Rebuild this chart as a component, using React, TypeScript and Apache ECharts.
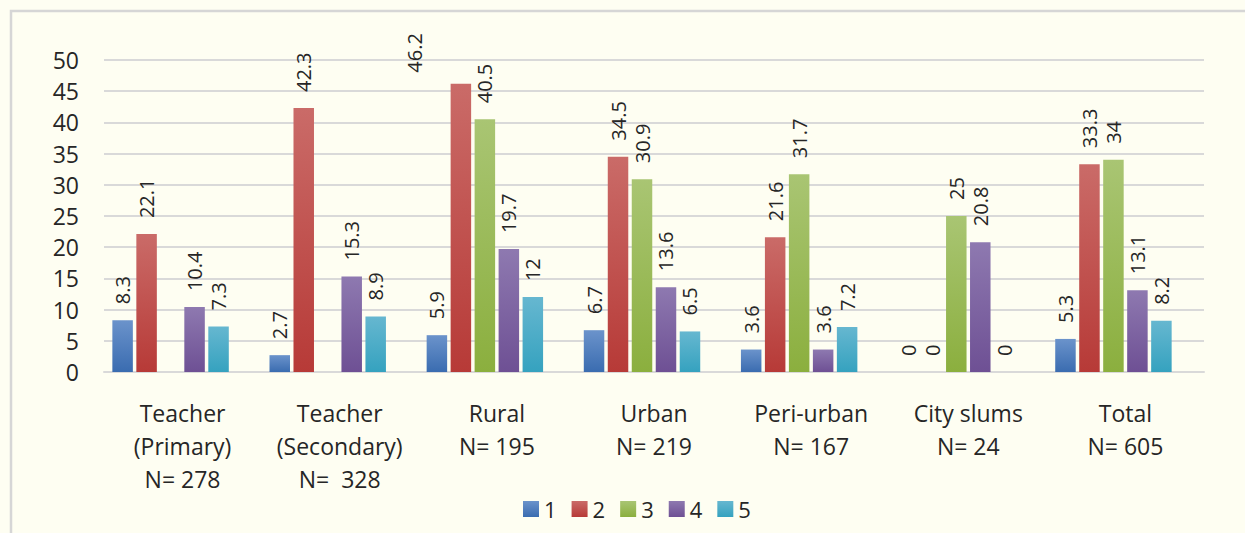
import React, { useEffect, useRef } from "react";
import * as echarts from "echarts";

const categories = [
  "Teacher\n(Primary)\nN= 278",
  "Teacher\n(Secondary)\nN=  328",
  "Rural\nN= 195",
  "Urban\nN= 219",
  "Peri-urban\nN= 167",
  "City slums\nN= 24",
  "Total\nN= 605",
];
const seriesNames = ["1", "2", "3", "4", "5"];
const values1 = [8.3, 2.7, 5.9, 6.7, 3.6, 0, 5.3];
const values2 = [22.1, 42.3, 46.2, 34.5, 21.6, 0, 33.3];
const values3 = [null, null, 40.5, 30.9, 31.7, 25, 34];
const values4 = [10.4, 15.3, 19.7, 13.6, 3.6, 20.8, 13.1];
const values5 = [7.3, 8.9, 12, 6.5, 7.2, 0, 8.2];
const spacerValues = [null, null, null, null, null, null, null];
const yTicks = { min: 0, max: 50, interval: 5 };

const FONT = '"Open Sans", "Noto Sans", sans-serif';
const TEXT = "#262626";
const gradients: [string, string][] = [
  ["#6B93CB", "#3A6CB0"],
  ["#CA6B68", "#B73A37"],
  ["#A9C573", "#8BAF3E"],
  ["#8E79B0", "#6E5094"],
  ["#66B7D0", "#35A2BF"],
];

export default function App() {
  const ref = useRef<HTMLDivElement>(null);
  useEffect(() => {
    if (!ref.current) return;
    const chart = echarts.init(ref.current, null, { renderer: "svg" });
    const allValues = [values1, values2, values3, values4, values5];
    const series: any[] = allValues.map((vals, i) => ({
      name: seriesNames[i],
      type: "bar",
      barWidth: 20.5,
      barGap: "17%",
      data: vals.map((v, j) =>
        i === 1 && j === 2
          ? { value: v, label: { offset: [-5, -46] } }
          : v
      ),
      itemStyle: {
        color: new echarts.graphic.LinearGradient(0, 0, 0, 1, [
          { offset: 0, color: gradients[i][0] },
          { offset: 1, color: gradients[i][1] },
        ]),
      },
      label: {
        show: true,
        position: "top",
        distance: 16,
        rotate: 90,
        align: "left",
        verticalAlign: "middle",
        fontSize: 20,
        fontFamily: FONT,
        color: TEXT,
      },
    }));
    series.push({
      name: "",
      type: "bar",
      barWidth: 20.5,
      barGap: "17%",
      data: spacerValues,
      label: { show: false },
    });
    chart.setOption({
      animation: false,
      backgroundColor: "#FEFEF2",
      textStyle: { fontFamily: FONT },
      grid: { left: 104, right: 41, top: 60, bottom: 161 },
      legend: {
        data: seriesNames,
        left: 523,
        top: 498,
        padding: 0,
        icon: "rect",
        itemWidth: 16,
        itemHeight: 16,
        itemGap: 15,
        textStyle: { fontSize: 22, color: TEXT, fontFamily: FONT },
      },
      xAxis: {
        type: "category",
        data: categories,
        axisTick: { show: false },
        axisLine: { lineStyle: { color: "#D9D9D9", width: 2 } },
        axisLabel: {
          interval: 0,
          margin: 24,
          fontSize: 23,
          lineHeight: 33,
          color: TEXT,
          fontFamily: FONT,
        },
      },
      yAxis: {
        type: "value",
        min: yTicks.min,
        max: yTicks.max,
        interval: yTicks.interval,
        axisLine: { show: false },
        axisTick: { show: false },
        axisLabel: { margin: 25, fontSize: 23, color: TEXT, fontFamily: FONT },
        splitLine: { lineStyle: { color: "#D9D9D9", width: 2 } },
      },
      graphic: [
        {
          type: "rect",
          silent: true,
          shape: { x: 11, y: 11, width: 1400, height: 700 },
          style: { fill: "none", stroke: "#D6D6D6", lineWidth: 2.5 },
        },
      ],
      series,
    });
    return () => chart.dispose();
  }, []);
  return (
    <div
      ref={ref}
      style={{ position: "absolute", left: 0, top: 0, width: 1245, height: 533 }}
    />
  );
}
